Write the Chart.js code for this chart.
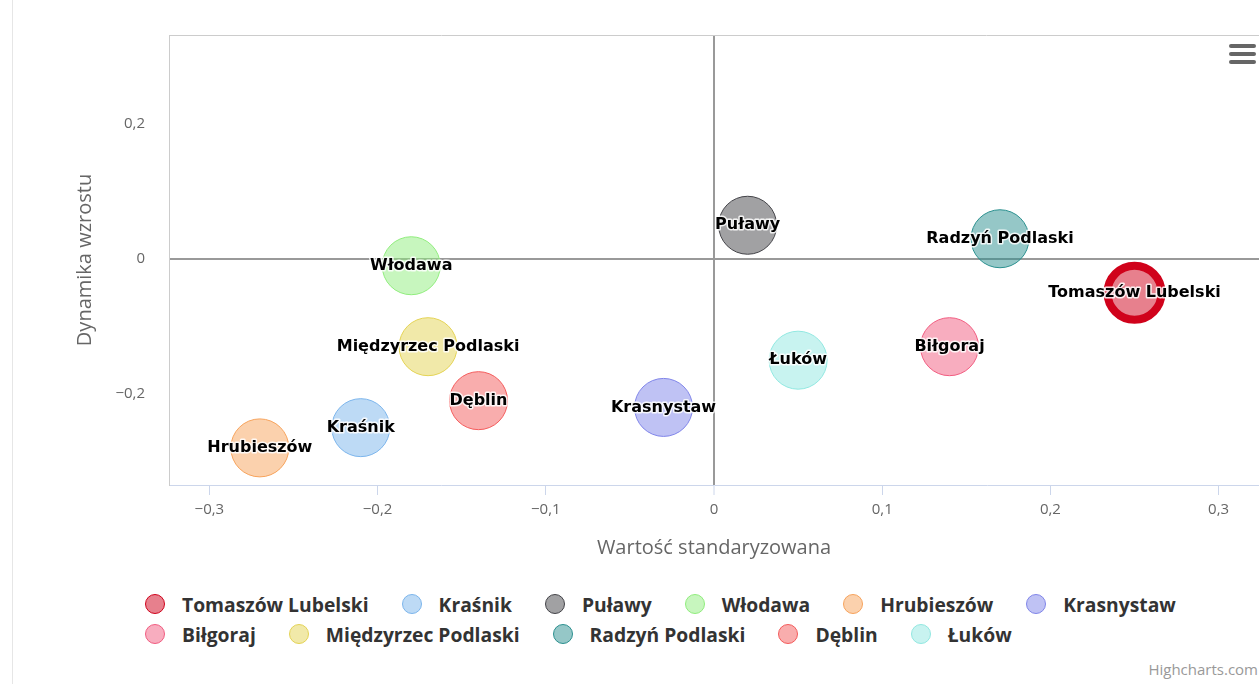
<!DOCTYPE html>
<html>
<head>
<meta charset="utf-8">
<script src="https://cdn.jsdelivr.net/npm/chart.js@4.4.1/dist/chart.umd.min.js"></script>
<style>
  html, body { margin: 0; padding: 0; background: #fff; }
  body { width: 1259px; height: 684px; position: relative; overflow: hidden; font-family: "Open Sans", sans-serif; }
  #frame { position: absolute; left: 12px; top: 0; width: 1px; height: 684px; background: #e6e6e6; }
  #wrap { position: absolute; left: 0; top: 0; width: 1259px; height: 585px; }
  #legend { position: absolute; left: 145px; top: 589px; width: 1100px; display: flex; flex-wrap: wrap; }
  .item { display: flex; align-items: center; height: 30px; margin-right: 33px; font-weight: bold; font-size: 19.3px; color: #333; }
  .dot { width: 20px; height: 20px; border-radius: 50%; border: 1px solid; margin-right: 17px; box-sizing: border-box; }
  #menu { position: absolute; left: 1229px; top: 44px; width: 27px; }
  #menu span { display: block; height: 4px; border-radius: 2px; background: #666; margin-bottom: 4px; }
  #credit { position: absolute; right: 1px; top: 659px; font-size: 15px; color: #999; }
</style>
</head>
<body>
<div id="frame"></div>
<div id="wrap"><canvas id="chart" width="1259" height="585"></canvas></div>
<div id="menu"><span></span><span></span><span></span></div>
<div id="legend"></div>
<div id="credit">Highcharts.com</div>
<script>
const cities = ['Tomaszów Lubelski', 'Kraśnik', 'Puławy', 'Włodawa', 'Hrubieszów', 'Krasnystaw',
  'Biłgoraj', 'Międzyrzec Podlaski', 'Radzyń Podlaski', 'Dęblin', 'Łuków'];
const xValues = [0.25, -0.21, 0.02, -0.18, -0.27, -0.03, 0.14, -0.17, 0.17, -0.14, 0.05];
const yValues = [-0.05, -0.25, 0.05, -0.01, -0.28, -0.22, -0.13, -0.13, 0.03, -0.21, -0.15];
const colors = ['#d0021b', '#7cb5ec', '#434348', '#90ed7d', '#f7a35c', '#8085e9',
  '#f15c80', '#e4d354', '#2b908f', '#f45b5b', '#91e8e1'];
const xTicks = [-0.3, -0.2, -0.1, 0, 0.1, 0.2, 0.3];
const yTicks = [-0.2, 0, 0.2];

const BUBBLE_R = 29;

function fade(hex, a) {
  const n = parseInt(hex.slice(1), 16);
  return 'rgba(' + (n >> 16) + ',' + ((n >> 8) & 255) + ',' + (n & 255) + ',' + a + ')';
}

function fmt(v) {
  if (v === 0) return '0';
  return (v < 0 ? '−' : '') + Math.abs(v).toFixed(1).replace('.', ',');
}

const datasets = cities.map((name, i) => ({
  label: name,
  data: [{ x: xValues[i], y: yValues[i], r: i === 0 ? BUBBLE_R - 2 : BUBBLE_R }],
  backgroundColor: fade(colors[i], 0.5),
  borderColor: colors[i],
  borderWidth: i === 0 ? 8 : 1
}));

// white-outlined names in the middle of each bubble
const bubbleLabels = {
  id: 'bubbleLabels',
  afterDatasetsDraw(chart) {
    const ctx = chart.ctx;
    ctx.save();
    ctx.font = 'bold 16px "DejaVu Sans"';
    ctx.textAlign = 'center';
    ctx.textBaseline = 'middle';
    ctx.lineJoin = 'round';
    chart.data.datasets.forEach((ds, i) => {
      const pt = chart.getDatasetMeta(i).data[0];
      ctx.lineWidth = 3;
      ctx.strokeStyle = 'rgba(255,255,255,0.85)';
      ctx.strokeText(ds.label, pt.x, pt.y);
      ctx.fillStyle = '#000';
      ctx.fillText(ds.label, pt.x, pt.y);
    });
    ctx.restore();
  }
};

// top edge of the plot box
const plotTop = {
  id: 'plotTop',
  beforeDatasetsDraw(chart) {
    const { ctx, chartArea } = chart;
    ctx.save();
    ctx.strokeStyle = '#cccccc';
    ctx.lineWidth = 1;
    ctx.beginPath();
    ctx.moveTo(chartArea.left, chartArea.top + 0.5);
    ctx.lineTo(chartArea.right, chartArea.top + 0.5);
    ctx.stroke();
    ctx.restore();
  }
};

new Chart(document.getElementById('chart'), {
  type: 'bubble',
  data: { datasets: datasets },
  options: {
    responsive: false,
    animation: false,
    layout: { autoPadding: false, padding: { top: 35, left: 0, right: 0, bottom: 0 } },
    plugins: { legend: { display: false }, tooltip: { enabled: false } },
    scales: {
      x: {
        min: -0.324, max: 0.324,
        afterBuildTicks: s => { s.ticks = xTicks.map(v => ({ value: v })); },
        afterFit: s => { s.height = 100; s.paddingLeft = 0; s.paddingRight = 0; },
        border: { color: '#ccd6eb' },
        grid: {
          color: c => c.tick && c.tick.value === 0 ? '#999999' : 'rgba(0,0,0,0)',
          lineWidth: c => c.tick && c.tick.value === 0 ? 2 : 1,
          tickColor: '#ccd6eb', tickWidth: 1, tickLength: 10
        },
        ticks: { callback: v => fmt(v), color: '#666', padding: 6, font: { family: 'Open Sans', size: 15 } },
        title: { display: true, text: 'Wartość standaryzowana', color: '#666',
          font: { family: 'Open Sans', size: 20 }, padding: { top: 0, bottom: 25 } }
      },
      y: {
        min: -0.335, max: 0.332,
        afterBuildTicks: s => { s.ticks = yTicks.map(v => ({ value: v })); },
        afterFit: s => { s.width = 169; s.paddingTop = 0; s.paddingBottom = 0; },
        border: { color: '#cccccc' },
        grid: {
          color: c => c.tick && c.tick.value === 0 ? '#999999' : 'rgba(0,0,0,0)',
          lineWidth: c => c.tick && c.tick.value === 0 ? 2 : 1,
          drawTicks: false
        },
        ticks: { callback: v => fmt(v), color: '#666', padding: 24, font: { family: 'Open Sans', size: 15 } },
        title: { display: true, text: 'Dynamika wzrostu', color: '#666',
          font: { family: 'Open Sans', size: 20 }, padding: { top: 73, bottom: 0 } }
      }
    }
  },
  plugins: [plotTop, bubbleLabels]
});

const legend = document.getElementById('legend');
cities.forEach((name, i) => {
  const item = document.createElement('div');
  item.className = 'item';
  const dot = document.createElement('span');
  dot.className = 'dot';
  dot.style.background = fade(colors[i], 0.5);
  dot.style.borderColor = colors[i];
  item.appendChild(dot);
  item.appendChild(document.createTextNode(name));
  legend.appendChild(item);
});
</script>
</body>
</html>
